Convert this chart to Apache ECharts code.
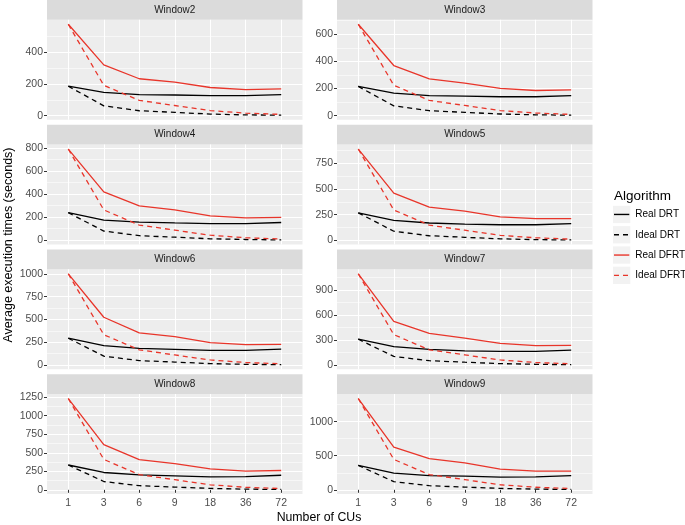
<!DOCTYPE html>
<html><head><meta charset="utf-8">
<script src="https://cdn.jsdelivr.net/npm/echarts@6/dist/echarts.min.js"></script>
<style>html,body{margin:0;padding:0;background:#fff}#c{width:685px;height:525px}</style>
</head><body><div id="c"></div><script>
// ---- data ----
const cus = ['1', '3', '6', '9', '18', '36', '72'];
const windows = ['Window2', 'Window3', 'Window4', 'Window5', 'Window6', 'Window7', 'Window8', 'Window9'];
const seriesNames = ['Real DRT', 'Ideal DRT', 'Real DFRT', 'Ideal DFRT'];
const realDRT = [
  [185, 147, 132, 130, 126, 126, 132],
  [215, 166, 148, 144, 139, 139, 148],
  [239, 174, 157, 150, 145, 145, 154],
  [268, 195, 169, 159, 152, 152, 162],
  [294, 212, 183, 172, 160, 160, 175],
  [310, 220, 188, 171, 163, 163, 179],
  [335, 234, 202, 188, 174, 179, 197],
  [358, 245, 209, 200, 185, 190, 209]
];
const idealDRT = [
  [185, 62, 31, 21, 10, 5, 3],
  [215, 72, 36, 24, 12, 6, 3],
  [239, 80, 40, 27, 13, 7, 3],
  [268, 89, 45, 30, 15, 7, 4],
  [294, 98, 49, 33, 16, 8, 4],
  [310, 103, 52, 34, 17, 9, 4],
  [335, 112, 56, 37, 19, 9, 5],
  [358, 119, 60, 40, 20, 10, 5]
];
const realDFRT = [
  [574, 319, 232, 211, 177, 164, 168],
  [673, 369, 270, 240, 200, 185, 190],
  [790, 419, 298, 263, 212, 195, 198],
  [889, 460, 324, 284, 228, 212, 212],
  [1000, 524, 353, 312, 245, 223, 227],
  [1095, 525, 379, 322, 261, 232, 236],
  [1232, 610, 408, 353, 284, 252, 261],
  [1339, 627, 458, 394, 304, 274, 274]
];
const idealDFRT = [
  [574, 191, 96, 64, 32, 16, 8],
  [673, 224, 112, 75, 37, 19, 9],
  [790, 263, 132, 88, 44, 22, 11],
  [889, 296, 148, 99, 49, 25, 12],
  [1000, 333, 167, 111, 56, 28, 14],
  [1095, 365, 183, 122, 61, 30, 15],
  [1232, 411, 205, 137, 68, 34, 17],
  [1339, 446, 223, 149, 74, 37, 19]
];
const yTicks = [
  [0, 200, 400],
  [0, 200, 400, 600],
  [0, 200, 400, 600, 800],
  [0, 250, 500, 750],
  [0, 250, 500, 750, 1000],
  [0, 300, 600, 900],
  [0, 250, 500, 750, 1000, 1250],
  [0, 500, 1000]
];

// ---- styling / layout ----
const RED = '#E8352A';
const PANEL_BG = '#EDEDED';
const STRIP_BG = '#DBDBDB';
const FONT = 'Liberation Sans';
const DASH = [5, 4];
const colLeft = [47, 337];
const panelW = 255.5;
const rowPitch = 124.75;
const stripH = 19.75;
const panelH = 100;
const defs = [
  { data: realDRT, color: '#000000', type: 'solid' },
  { data: idealDRT, color: '#000000', type: DASH },
  { data: realDFRT, color: RED, type: 'solid' },
  { data: idealDFRT, color: RED, type: DASH }
];
const xPos = cus.map((c, k) => k + 1);

const grids = [], xAxes = [], yAxes = [], series = [], graphics = [];
windows.forEach((w, i) => {
  const col = i % 2, row = Math.floor(i / 2);
  const left = colLeft[col];
  const top = row * rowPitch + stripH;
  grids.push({ left: left, top: top, width: panelW, height: panelH, show: true,
    backgroundColor: PANEL_BG, borderWidth: 0 });
  const all = defs.flatMap(d => d.data[i]);
  const mn = Math.min(...all), mx = Math.max(...all);
  const pad = (mx - mn) * 0.05;
  const ymin = mn - pad, ymax = mx + pad;
  const ticks = yTicks[i];
  const step = ticks[1] - ticks[0];
  const minors = [];
  for (let v = ticks[0] - step / 2; v <= ymax; v += step) if (v >= ymin) minors.push(v);
  const bottom = row === 3;
  xAxes.push({ gridIndex: i, type: 'value', min: 0.4, max: 7.6,
    axisLine: { show: false },
    axisTick: { show: bottom, customValues: xPos, length: 3, lineStyle: { color: '#333333', width: 1 } },
    axisLabel: { show: bottom, customValues: xPos, formatter: v => cus[Math.round(v) - 1],
      color: '#4D4D4D', fontSize: 10.5, margin: 4, fontFamily: FONT },
    splitLine: { show: true, lineStyle: { color: '#FFFFFF', width: 1.1 } } });
  yAxes.push({ gridIndex: i, type: 'value', min: ymin, max: ymax,
    axisLine: { show: false },
    axisTick: { show: true, customValues: ticks, length: 3, lineStyle: { color: '#333333', width: 1 } },
    axisLabel: { show: true, customValues: ticks, formatter: v => String(v),
      color: '#4D4D4D', fontSize: 10.5, margin: 4, fontFamily: FONT },
    splitLine: { show: true, lineStyle: { color: '#FFFFFF', width: 1.1 } } });
  yAxes.push({ gridIndex: i, type: 'value', min: ymin, max: ymax,
    axisLine: { show: false },
    axisTick: { show: false, customValues: minors },
    axisLabel: { show: false, customValues: minors },
    splitLine: { show: true, lineStyle: { color: '#FFFFFF', width: 0.55 } } });
  defs.forEach((d, s) => {
    series.push({ type: 'line', name: seriesNames[s], xAxisIndex: i, yAxisIndex: 2 * i,
      data: d.data[i].map((v, k) => [xPos[k], v]), symbol: 'none', silent: true,
      lineStyle: { color: d.color, width: 1.3, type: d.type }, itemStyle: { color: d.color },
      animation: false });
  });
  graphics.push({ type: 'rect', shape: { x: left, y: top - stripH, width: panelW, height: stripH },
    style: { fill: STRIP_BG }, silent: true });
  graphics.push({ type: 'text', x: left + panelW / 2, y: top - stripH / 2,
    style: { text: w, align: 'center', verticalAlign: 'middle', fill: '#1A1A1A',
      fontSize: 10, fontFamily: FONT }, silent: true });
});

// legend key backgrounds and key glyphs
const legLeft = 613, legTop = 205.8, legPitch = 20.3, keySize = 17.3;
seriesNames.forEach((n, k) => {
  const y0 = legTop + k * legPitch;
  graphics.push({ type: 'rect', z: -10, shape: { x: legLeft, y: y0, width: keySize, height: keySize },
    style: { fill: '#F2F2F2' }, silent: true });
  graphics.push({ type: 'line', z: 10, shape: { x1: legLeft + 1, y1: y0 + keySize / 2, x2: legLeft + keySize - 1, y2: y0 + keySize / 2 },
    style: { stroke: defs[k].color, lineWidth: 1.4, lineDash: defs[k].type === 'solid' ? null : DASH }, silent: true });
});
graphics.push({ type: 'text', x: 614, y: 196,
  style: { text: 'Algorithm', align: 'left', verticalAlign: 'middle', fill: '#000000', fontSize: 13.5, fontFamily: FONT } });
graphics.push({ type: 'text', x: 319, y: 518,
  style: { text: 'Number of CUs', align: 'center', verticalAlign: 'middle', fill: '#000000', fontSize: 12.3, fontFamily: FONT } });
graphics.push({ type: 'text', x: 9, y: 245, rotation: Math.PI / 2,
  style: { text: 'Average execution times (seconds)', align: 'center', verticalAlign: 'middle', fill: '#000000', fontSize: 12.5, fontFamily: FONT } });

const chart = echarts.init(document.getElementById('c'), null, { renderer: 'canvas' });
chart.setOption({
  animation: false,
  textStyle: { fontFamily: FONT },
  grid: grids,
  xAxis: xAxes,
  yAxis: yAxes,
  series: series,
  legend: { data: seriesNames, orient: 'vertical', left: legLeft, top: legTop, padding: 0,
    itemWidth: keySize, itemHeight: keySize, itemGap: legPitch - keySize, selectedMode: false,
    icon: 'rect', itemStyle: { opacity: 0 }, lineStyle: { opacity: 0 },
    textStyle: { fontSize: 10, color: '#000000', fontFamily: FONT } },
  graphic: graphics
});
</script></body></html>
